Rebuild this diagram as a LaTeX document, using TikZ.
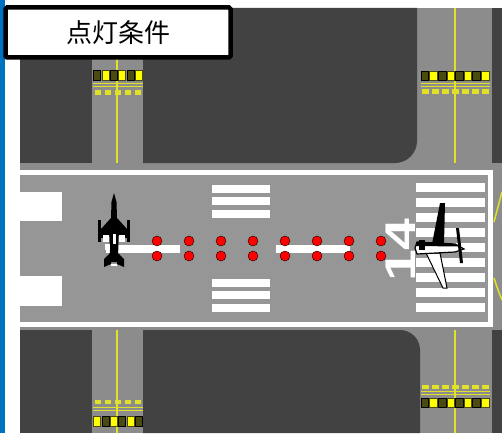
\documentclass[tikz,border=0pt]{standalone}
\usepackage{fontspec}
\setmainfont{Liberation Sans}
\newfontfamily\jpfont{Noto Sans CJK JP}
\definecolor{apron}{RGB}{66,66,66}
\definecolor{pave}{RGB}{140,140,140}
\definecolor{rwy}{RGB}{150,150,150}
\definecolor{bar}{RGB}{0,112,192}
\definecolor{tyel}{RGB}{225,225,40}
\definecolor{loff}{RGB}{75,75,15}
\definecolor{lon}{RGB}{255,255,0}
\begin{document}
\begin{tikzpicture}[x=1pt,y=-1pt,
    lamp/.style={circle,draw=black,line width=.4pt,fill=red,inner sep=0pt,minimum size=10pt},
    lightoff/.style={fill=loff,draw=black,line width=.4pt},
    lighton/.style={fill=lon,draw=loff,line width=.4pt},
    tline/.style={tyel,line width=1.1pt},
    stripe/.style={fill=white}]
\useasboundingbox (0,0) rectangle (502,433);
\fill[white] (0,0) rectangle (502,433);
\fill[bar] (0,0) rectangle (5,433);

% pavement, then the dark grass/apron blocks on top
\fill[pave] (20,8) rectangle (502,433);
\fill[apron] (20,8) rectangle (92,163);
\fill[apron] (143,8) -- (417,8) -- (417,141) arc[start angle=0,end angle=90,radius=22] -- (143,163) -- cycle;
\fill[apron] (492,8) rectangle (502,163);
\fill[apron] (20,330) rectangle (92,433);
\fill[apron] (143,433) -- (143,330) -- (400,330) arc[start angle=-90,end angle=0,radius=20] -- (420,433) -- cycle;
\fill[apron] (492,330) rectangle (502,433);

% runway
\fill[rwy] (20,175) rectangle (487.5,322);
\draw[white,line width=5pt] (20,172.5) -- (490,172.5) -- (490,324.5) -- (20,324.5);
\draw[tline,line width=1.5pt] (502,192) .. controls (499,203) .. (494,222);
\draw[tline,line width=1.5pt] (494,278) .. controls (498,290) .. (502,300);
\fill[stripe] (20,192) rectangle (62,221);
\fill[stripe] (20,276) rectangle (62,306);
\foreach \y in {184.5,197.2,209.9,278.5,291.2,303.9}
  \fill[stripe] (212,\y) rectangle (270,\y+8);
\foreach \k in {0,...,8}
  \fill[stripe] (416,183+15*\k) rectangle (485,192+15*\k);
\fill[stripe] (106,245) rectangle (180,253);
\fill[stripe] (276,245) rectangle (350,253);

% taxiway centre lines
\draw[tline] (117,8) -- (117,163);
\draw[tline] (117,330) -- (117,433);
\draw[tline] (455,8) -- (455,163);
\draw[tline] (455,330) -- (455,433);

% stop bars, top left
\foreach \k in {0,2,4} \path[lightoff] (93.5+8.33*\k,70) rectangle ++(7,10);
\foreach \k in {1,3,5} \path[lighton] (93.5+8.33*\k,70) rectangle ++(7,10);
\draw[tline] (93,83.5) -- (143,83.5);
\draw[tline] (93,86.5) -- (143,86.5);
\foreach \k in {0,...,4} \fill[tyel] (94.5+10*\k,90.5) rectangle ++(6,4);
% top right
\foreach \k in {0,2,4,6} \path[lightoff] (421+8.6*\k,71) rectangle ++(7.5,9);
\foreach \k in {1,3,5,7} \path[lighton] (421+8.6*\k,71) rectangle ++(7.5,9);
\draw[tline] (421,83.5) -- (490,83.5);
\draw[tline] (421,86.5) -- (490,86.5);
\foreach \k in {0,...,6} \fill[tyel] (422+10*\k,89.5) rectangle ++(6.5,4);
% bottom left
\foreach \k in {0,...,4} \fill[tyel] (94.5+10*\k,400) rectangle ++(6,4);
\draw[tline] (93,407.5) -- (143,407.5);
\draw[tline] (93,410.5) -- (143,410.5);
\foreach \k in {0,2,4} \path[lighton] (93.5+8.33*\k,416) rectangle ++(7,10);
\foreach \k in {1,3,5} \path[lightoff] (93.5+8.33*\k,416) rectangle ++(7,10);
% bottom right
\foreach \k in {0,...,6} \fill[tyel] (422+10*\k,385) rectangle ++(6.5,4);
\draw[tline] (421,391.5) -- (490,391.5);
\draw[tline] (421,394.5) -- (490,394.5);
\foreach \k in {0,2,4,6} \path[lightoff] (421+8.6*\k,398) rectangle ++(7.5,9);
\foreach \k in {1,3,5,7} \path[lighton] (421+8.6*\k,398) rectangle ++(7.5,9);

% jet on the left end
\begin{scope}[shift={(114,230)}]
  \fill[black] (0,-37) -- (2.5,-28) -- (3,-12) -- (4.5,8) -- (4,32) -- (-4,32) -- (-4.5,8) -- (-3,-12) -- (-2.5,-28) -- cycle;
  \fill[black] (-3,-12) -- (-13,-1) -- (-13,8) -- (-3,6) -- cycle;
  \fill[black] (3,-12) -- (13,-1) -- (13,8) -- (3,6) -- cycle;
  \fill[black] (-16,-10) rectangle (-13,12);
  \fill[black] (13,-10) rectangle (16,12);
  \fill[black] (-3,22) -- (-10,29) -- (-10,37) -- (-3,34) -- cycle;
  \fill[black] (3,22) -- (10,29) -- (10,37) -- (3,34) -- cycle;
  \fill[white] (-11,5) rectangle (-5,12);
  \fill[white] (5,5) rectangle (11,12);
  \fill[white] (-9,14) rectangle (-4,20);
  \fill[white] (-1.5,4) rectangle (1.5,14);
  \fill[white] (-3,34) rectangle (3,36);
\end{scope}

% approach lights
\node(l1)[lamp] at (157,241){};
\node(l2)[lamp] at (157,256){};
\node(l3)[lamp] at (189,241){};
\node(l4)[lamp] at (189,256){};
\node(l5)[lamp] at (221,241){};
\node(l6)[lamp] at (221,256){};
\node(l7)[lamp] at (253,241){};
\node(l8)[lamp] at (253,256){};
\node(l9)[lamp] at (285,241){};
\node(l10)[lamp] at (285,256){};
\node(l11)[lamp] at (317,241){};
\node(l12)[lamp] at (317,256){};
\node(l13)[lamp] at (349,241){};
\node(l14)[lamp] at (349,256){};
\node(l15)[lamp] at (381,241){};
\node(l16)[lamp] at (381,256){};

% runway designator
\node(num)[white,inner sep=0pt,rotate=90,xscale=1.33,font=\bfseries\fontsize{43}{43}\selectfont] at (400.5,250){14};

% airliner on the threshold
\begin{scope}[shift={(440,248)}]
  \fill[black] (-8,-4) -- (0,-45) -- (5,-45) -- (4,-4) -- cycle;
  \filldraw[fill=white,draw=black,line width=1pt] (-14,5) -- (3,40) -- (7,40) -- (0,5) -- cycle;
  \filldraw[fill=white,draw=black,line width=1.2pt] (-25,0) -- (-23,-6) -- (15,-4) -- (24,1) -- (15,4) -- (-23,6) -- cycle;
  \fill[black] (-24,-2) -- (-23,-6) -- (15,-4) -- (20,-1.5) -- cycle;
  \fill[black] (-21,-8) rectangle (-15,2);
  \fill[black] (16,-20) -- (19,-20) -- (23,15) -- (20,15) -- cycle;
\end{scope}

% caption box
\node(ttl)[draw=black,line width=4.5pt,fill=white,rounded corners=1.5pt,minimum width=225pt,minimum height=50pt,inner sep=0pt,font=\jpfont\fontsize{26}{26}\selectfont] at (118,32.5){点灯条件};
\end{tikzpicture}
\end{document}
